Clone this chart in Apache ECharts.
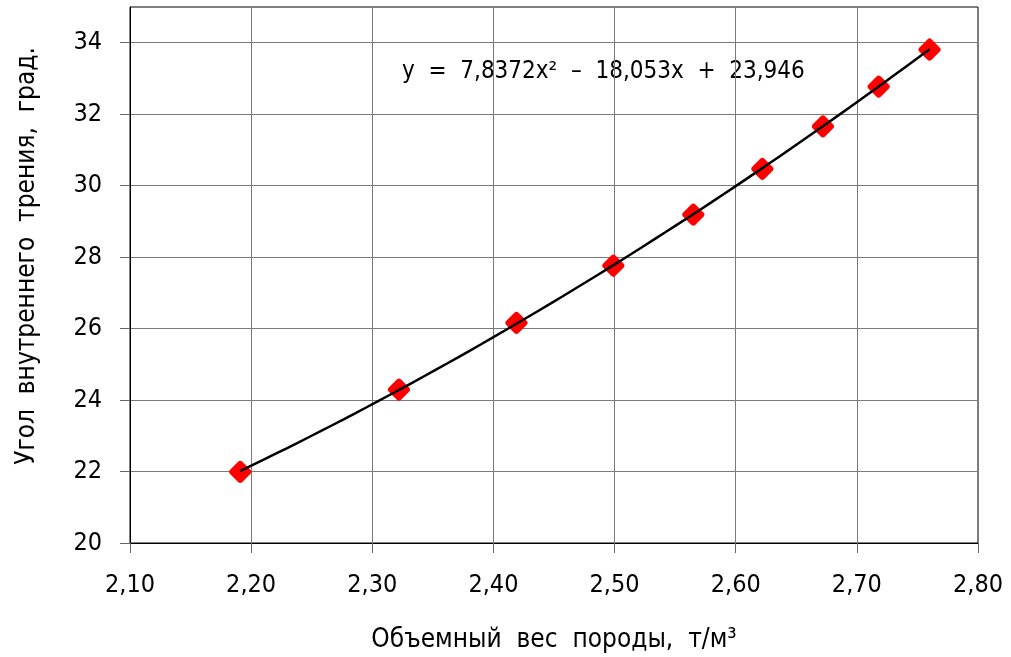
<!DOCTYPE html>
<html>
<head>
<meta charset="utf-8">
<script src="https://cdn.jsdelivr.net/npm/echarts@6/dist/echarts.min.js"></script>
<style>
  html, body { margin: 0; padding: 0; background: #fff; }
  #chart { width: 1011px; height: 657px; }
</style>
</head>
<body>
<div id="chart"></div>
<script>
// Bulk density of rock (t/m3) vs. angle of internal friction (deg)
const density = [2.191, 2.322, 2.419, 2.499, 2.565, 2.622, 2.672, 2.718, 2.760];
const frictionAngle = [21.99, 24.29, 26.16, 27.76, 29.19, 30.47, 31.66, 32.77, 33.81];

// Labelled ticks on the angle axis
const yTicks = [20, 22, 24, 26, 28, 30, 32, 34];

// Quadratic trend coefficients: y = a*x^2 + b*x + c
const trendCoef = [7.8372, -18.053, 23.946];
const trendLabel = 'y  =  7,8372x²  –  18,053x  +  23,946';

const xTitle = 'Объемный  вес  породы,  т/м³';
const yTitle = 'Угол  внутреннего  трения,  град.';

const FONT = '"DejaVu Sans Condensed", "DejaVu Sans", sans-serif';

// Sample the stated trend equation across the measured range
const trendPts = [];
const xStart = density[0], xEnd = density[density.length - 1];
for (let i = 0; i <= 60; i++) {
  const x = xStart + (xEnd - xStart) * i / 60;
  trendPts.push([x, trendCoef[0] * x * x + trendCoef[1] * x + trendCoef[2]]);
}

const chart = echarts.init(document.getElementById('chart'));
chart.setOption({
  animation: false,
  grid: { left: 130, right: 33, top: 7, bottom: 114, outerBoundsMode: 'none',
    show: true, borderColor: '#000', borderWidth: 1 },
  xAxis: {
    type: 'value', min: 2.1, max: 2.8, interval: 0.1,
    name: xTitle, nameLocation: 'middle', nameGap: 84,
    nameTextStyle: { fontFamily: FONT, fontSize: 26, color: '#000' },
    axisLine: { lineStyle: { color: '#000', width: 1 } },
    axisTick: { show: true, length: 10, lineStyle: { color: '#666' } },
    axisLabel: { fontFamily: FONT, fontSize: 25, color: '#000', margin: 30,
      formatter: v => v.toFixed(2).replace('.', ',') },
    splitLine: { lineStyle: { color: '#7a7a7a', width: 1 } }
  },
  yAxis: {
    type: 'value', min: 20, max: 35, interval: 2,
    axisLine: { lineStyle: { color: '#000', width: 1 } },
    axisTick: { show: true, length: 10, customValues: yTicks, lineStyle: { color: '#666' } },
    axisLabel: { fontFamily: FONT, fontSize: 25, color: '#000', margin: 28,
      customValues: yTicks, formatter: v => String(v) },
    splitLine: { lineStyle: { color: '#7a7a7a', width: 1 } }
  },
  graphic: [
    {
      type: 'text', left: 402, top: 60,
      style: { text: trendLabel, font: '24px ' + FONT, fill: '#000' }
    },
    {
      type: 'text', x: 27, y: 256, rotation: Math.PI / 2,
      style: { text: yTitle, font: '26px ' + FONT, fill: '#000',
        align: 'center', verticalAlign: 'middle' }
    }
  ],
  series: [
    {
      type: 'line', data: trendPts, showSymbol: false, smooth: false,
      lineStyle: { color: '#000', width: 2.5 }, z: 3
    },
    {
      type: 'scatter', data: density.map((x, i) => [x, frictionAngle[i]]),
      symbol: 'diamond', symbolSize: 16,
      itemStyle: { color: '#ff0000', opacity: 1, borderColor: '#ff0000', borderWidth: 6, borderJoin: 'round' },
      z: 2
    }
  ]
});
</script>
</body>
</html>
